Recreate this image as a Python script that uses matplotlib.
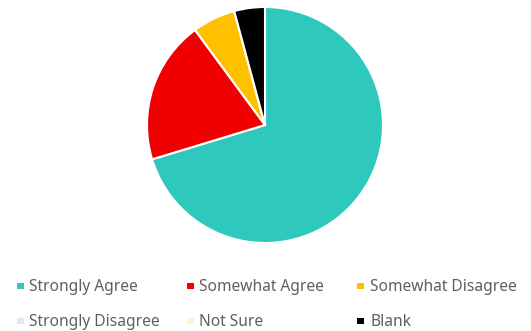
import matplotlib
matplotlib.use("Agg")
import matplotlib.pyplot as plt
from matplotlib.patches import Rectangle

categories = ["Strongly Agree", "Somewhat Agree", "Somewhat Disagree",
              "Strongly Disagree", "Not Sure", "Blank"]
values = [70.3, 19.6, 5.9, 0.0, 0.0, 4.2]
colors = ["#2EC8BC", "#F00000", "#FFC000", "#DDEBF7", "#FFF2CC", "#000000"]

W, H = 531, 331
fig = plt.figure(figsize=(W / 100, H / 100), dpi=100)
fig.patch.set_facecolor("white")

cx, cy, r = 265, 125, 118
half = r * 1.02
ax = fig.add_axes([(cx - half) / W, (H - cy - half) / H, 2 * half / W, 2 * half / H])
wedges, _ = ax.pie(values, colors=colors, startangle=90, counterclock=False,
                   radius=1.0,
                   wedgeprops=dict(edgecolor="white", linewidth=1.5))
ax.set_xlim(-1.02, 1.02)
ax.set_ylim(-1.02, 1.02)
ax.set_aspect("equal")
ax.axis("off")

# legend laid out as in the reference: 3 columns, 2 rows (row-major)
col_marker_x = [17, 187, 357]
col_text_x = [29, 199, 370]
row_marker_cy = [286, 321]
row_baseline = [291, 326]
msize = 6.5
for i, (lab, col) in enumerate(zip(categories, colors)):
    rr, cc = divmod(i, 3)
    mx = col_marker_x[cc]
    my = row_marker_cy[rr]
    fig.patches.append(Rectangle((mx / W, (H - my - msize / 2) / H),
                                 msize / W, msize / H,
                                 transform=fig.transFigure, facecolor=col,
                                 edgecolor="none", figure=fig))
    fig.text(col_text_x[cc] / W, (H - row_baseline[rr]) / H, lab,
             family="Noto Sans", size=11.2, color="#5F5F5F",
             ha="left", va="baseline")

fig.savefig("out.png", dpi=100, facecolor="white")
